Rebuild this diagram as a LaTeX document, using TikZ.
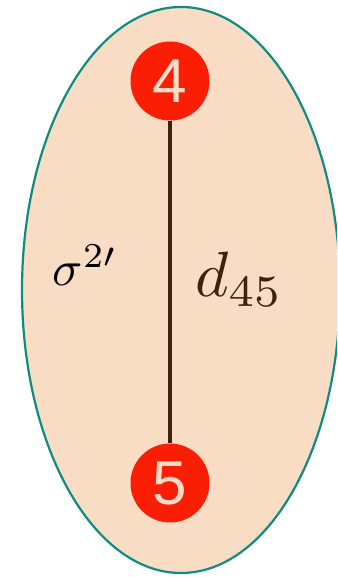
\documentclass[tikz,border=0pt]{standalone}
\usepackage{fontspec}
\usepackage{graphicx}
\usepackage{tikz}
\usetikzlibrary{positioning}
\newfontfamily\digitfont{Liberation Sans}

\definecolor{peach}{HTML}{F8DCC4}
\definecolor{tealline}{HTML}{0E8C82}
\definecolor{nodered}{HTML}{FA1E05}
\definecolor{darkbrown}{HTML}{3E2210}
\definecolor{digitpale}{HTML}{F9DCC8}

\begin{document}
\begin{tikzpicture}[x=1pt, y=-1pt,
    cluster/.style={
        draw=tealline, fill=peach, line width=2.2pt
    },
    vertex/.style={
        circle, fill=nodered, minimum size=79pt, inner sep=0pt,
        text=digitpale, font=\fontsize{62}{62}\selectfont\digitfont
    },
    edge/.style={
        line width=3.6pt, darkbrown
    },
    lbl/.style={text=darkbrown, inner sep=0pt},
    varlbl/.style={text=black, inner sep=0pt}
]

\useasboundingbox (0, 0) rectangle (337, 577);

\begin{scope}
\clip (0, 0) rectangle (337, 577);
\draw[cluster] (181, 290) ellipse [x radius=159, y radius=283];
\end{scope}

\node[vertex] (n4) at (170, 81) {4};
\node[vertex] (n5) at (170, 483) {5};

\draw[edge] (n4) -- (n5);

\node[lbl] (dist) at (239, 279) {\scalebox{6.4}{$d_{45}$}};
\node[varlbl] (sigma) at (85, 265) {\scalebox{5}{$\sigma^{2\prime}$}};

\end{tikzpicture}
\end{document}
